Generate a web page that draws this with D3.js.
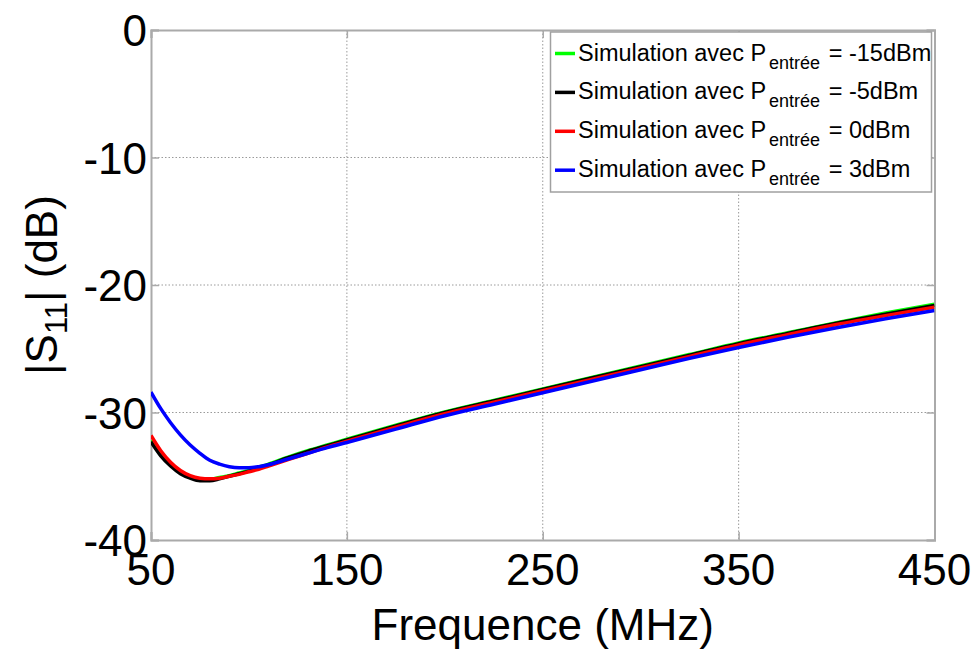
<!DOCTYPE html>
<html><head><meta charset="utf-8">
<script src="https://cdn.jsdelivr.net/npm/d3@7"></script>
<style>body{margin:0;background:#fff;} text{font-family:Arial,"Liberation Sans",sans-serif;}</style>
</head><body>
<svg id="chart" width="978" height="653"></svg>
<script>
const freqs = [50,55,60,65,70,75,80,85,90,95,100,105,110,120,130,140,150,175,200,225,250,275,300,325,350,375,400,425,450];
const green_m15 = [-32.2,-33.3,-34.1,-34.7,-35.1,-35.25,-35.25,-35.1,-34.95,-34.75,-34.55,-34.3,-34.05,-33.5,-33.0,-32.55,-32.1,-31.0,-29.95,-29.05,-28.15,-27.25,-26.35,-25.45,-24.55,-23.75,-22.95,-22.2,-21.5];
const black_m5 = [-32.3,-33.4,-34.2,-34.8,-35.15,-35.35,-35.35,-35.2,-35.0,-34.8,-34.6,-34.35,-34.1,-33.55,-33.05,-32.6,-32.15,-31.05,-30.0,-29.1,-28.2,-27.3,-26.4,-25.5,-24.6,-23.8,-23.0,-22.3,-21.6];
const red_0 = [-31.8,-33.0,-33.9,-34.55,-34.95,-35.15,-35.2,-35.15,-35.0,-34.85,-34.65,-34.45,-34.2,-33.7,-33.2,-32.7,-32.25,-31.15,-30.1,-29.2,-28.3,-27.4,-26.5,-25.6,-24.7,-23.9,-23.1,-22.4,-21.75];
const blue_3 = [-28.4,-29.7,-30.8,-31.75,-32.55,-33.2,-33.75,-34.05,-34.25,-34.33,-34.33,-34.25,-34.1,-33.65,-33.2,-32.75,-32.35,-31.3,-30.25,-29.35,-28.45,-27.55,-26.65,-25.75,-24.9,-24.1,-23.35,-22.65,-22.0];
const seriesNames = ["-15dBm","-5dBm","0dBm","3dBm"];
const seriesColors = ["#00ff00","#000000","#ff0000","#0000ff"];
const seriesValues = [green_m15, black_m5, red_0, blue_3];
const xTicks = [50,150,250,350,450];
const yTicks = [0,-10,-20,-30,-40];

const svg = d3.select("#chart");
const L=151, R=934.5, T=30, B=540;
const x = d3.scaleLinear().domain([50,450]).range([L,R]);
const y = d3.scaleLinear().domain([-40,0]).range([B,T]);

// grid
const grid = svg.append("g");
grid.selectAll("line.vg").data(xTicks.slice(1,-1)).enter().append("line")
  .attr("x1",d=>x(d)).attr("x2",d=>x(d)).attr("y1",T).attr("y2",B)
  .attr("stroke","#9a9a9a").attr("stroke-width",1).attr("stroke-dasharray","1.5,2");
grid.selectAll("line.hg").data(yTicks.slice(1,-1)).enter().append("line")
  .attr("y1",d=>y(d)).attr("y2",d=>y(d)).attr("x1",L).attr("x2",R)
  .attr("stroke","#9a9a9a").attr("stroke-width",1).attr("stroke-dasharray","1.5,2");

// axes (inward ticks) using d3 axes
const axCol="#aaaaaa";
const xAxis = svg.append("g").attr("transform",`translate(0,${B})`)
  .call(d3.axisTop(x).tickValues(xTicks).tickSize(8).tickFormat(""));
const xAxisTop = svg.append("g").attr("transform",`translate(0,${T})`)
  .call(d3.axisBottom(x).tickValues(xTicks).tickSize(8).tickFormat(""));
const yAxis = svg.append("g").attr("transform",`translate(${L},0)`)
  .call(d3.axisRight(y).tickValues(yTicks).tickSize(8).tickFormat(""));
const yAxisR = svg.append("g").attr("transform",`translate(${R},0)`)
  .call(d3.axisLeft(y).tickValues(yTicks).tickSize(8).tickFormat(""));
[xAxis,xAxisTop,yAxis,yAxisR].forEach(g=>{
  g.selectAll("path.domain").attr("stroke",axCol).attr("stroke-width",2);
  g.selectAll(".tick line").attr("stroke",axCol).attr("stroke-width",1.5);
});

// tick labels
svg.append("g").selectAll("text").data(xTicks).enter().append("text")
  .attr("x",d=>x(d)).attr("y",585).attr("text-anchor","middle")
  .attr("font-size",44).attr("fill","#000").text(d=>d);
svg.append("g").selectAll("text").data(yTicks).enter().append("text")
  .attr("x",147).attr("y",d=>y(d)+16).attr("text-anchor","end")
  .attr("font-size",44).attr("fill","#000").text(d=>d);

// axis titles
svg.append("text").attr("x",(L+R)/2).attr("y",640).attr("text-anchor","middle")
  .attr("font-size",44).text("Frequence (MHz)");
const yl = svg.append("text").attr("transform","translate(57,285) rotate(-90)")
  .attr("text-anchor","middle").attr("font-size",44);
yl.append("tspan").text("|S");
yl.append("tspan").attr("font-size",31).attr("dy",10).text("11");
yl.append("tspan").attr("dy",-10).text("| (dB)");

// curves
svg.append("clipPath").attr("id","clip").append("rect")
  .attr("x",L).attr("y",T).attr("width",R-L).attr("height",B-T);
const line = d3.line().x(d=>x(d[0])).y(d=>y(d[1])).curve(d3.curveMonotoneX);
const curves = svg.append("g").attr("clip-path","url(#clip)");
seriesValues.forEach((vals,i)=>{
  curves.append("path").datum(freqs.map((f,j)=>[f,vals[j]]))
    .attr("d",line).attr("fill","none").attr("stroke",seriesColors[i])
    .attr("stroke-width",3.5).attr("stroke-linejoin","round");
});

// legend
const lg = svg.append("g");
lg.append("rect").attr("x",550.5).attr("y",32).attr("width",381).attr("height",160)
  .attr("fill","#fff").attr("stroke","#a0a0a0").attr("stroke-width",1.5);
seriesNames.forEach((n,i)=>{
  const yy = 53.5 + i*38.9;
  lg.append("line").attr("x1",555).attr("x2",575).attr("y1",yy).attr("y2",yy)
    .attr("stroke",seriesColors[i]).attr("stroke-width",3.5);
  const t = lg.append("text").attr("x",578).attr("y",yy+7).attr("font-size",23.5).attr("fill","#000");
  t.append("tspan").text("Simulation avec P");
  t.append("tspan").attr("font-size",18).attr("dy",8).attr("dx",3).text("entrée");
  t.append("tspan").attr("dy",-8).attr("dx",2).text(" = " + n);
});
</script>
</body></html>
